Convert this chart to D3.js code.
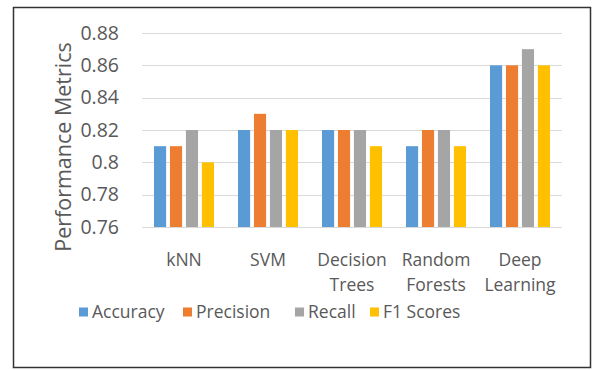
<!DOCTYPE html>
<html>
<head>
<meta charset="utf-8">
<script src="https://cdn.jsdelivr.net/npm/d3@7"></script>
<style>
  html, body { margin: 0; padding: 0; background: #fff; }
  svg { display: block; font-family: "Open Sans", sans-serif; }
</style>
</head>
<body>
<svg id="chart" width="594" height="370"></svg>
<script>
// Classifier comparison data
const categories = [["kNN"], ["SVM"], ["Decision", "Trees"], ["Random", "Forests"], ["Deep", "Learning"]];
const seriesNames = ["Accuracy", "Precision", "Recall", "F1 Scores"];
const seriesColors = ["#5B9BD5", "#ED7D31", "#A5A5A5", "#FFC000"];
const accuracy  = [0.81, 0.82, 0.82, 0.81, 0.86];
const precision = [0.81, 0.83, 0.82, 0.82, 0.86];
const recall    = [0.82, 0.82, 0.82, 0.82, 0.87];
const f1Scores  = [0.80, 0.82, 0.81, 0.81, 0.86];
const yTicks = [0.76, 0.78, 0.80, 0.82, 0.84, 0.86, 0.88];
const yTickLabels = ["0.76", "0.78", "0.8", "0.82", "0.84", "0.86", "0.88"];

const values = [accuracy, precision, recall, f1Scores];
const svg = d3.select("#chart");
const textColor = "#595959";

// Outer frame
svg.append("rect")
  .attr("x", 13.5).attr("y", 7.5)
  .attr("width", 577).attr("height", 360)
  .attr("fill", "#fff").attr("stroke", "#333").attr("stroke-width", 1.5);

const plot = { left: 142, right: 562, top: 33, bottom: 227 };

const y = d3.scaleLinear().domain([0.76, 0.88]).range([plot.bottom, plot.top]);
const x0 = d3.scaleBand().domain(d3.range(categories.length)).range([plot.left, plot.right]).paddingInner(0).paddingOuter(0);
const x1 = d3.scaleBand().domain(d3.range(seriesNames.length)).range([0, 60]).paddingInner(0.24);

// Gridlines
svg.append("g").selectAll("line").data(yTicks).join("line")
  .attr("x1", plot.left).attr("x2", plot.right)
  .attr("y1", d => Math.round(y(d)) + 0.5).attr("y2", d => Math.round(y(d)) + 0.5)
  .attr("stroke", "#d9d9d9").attr("stroke-width", 1);

// Y tick labels
svg.append("g").selectAll("text").data(yTicks).join("text")
  .attr("x", 119).attr("y", d => y(d))
  .attr("dy", "0.35em")
  .attr("text-anchor", "end")
  .attr("fill", textColor).attr("font-size", 19.5)
  .text((d, i) => yTickLabels[i]);

// Bars
const groups = svg.append("g").selectAll("g").data(categories).join("g")
  .attr("transform", (d, i) => `translate(${x0(i) + x0.bandwidth() / 2 - 30},0)`);
groups.selectAll("rect")
  .data((d, i) => values.map((s, k) => ({ k, v: s[i] })))
  .join("rect")
  .attr("x", d => x1(d.k))
  .attr("width", x1.bandwidth())
  .attr("y", d => y(d.v))
  .attr("height", d => y(0.76) - y(d.v))
  .attr("fill", d => seriesColors[d.k]);

// Category labels
const catLabels = svg.append("g").selectAll("text").data(categories).join("text")
  .attr("x", (d, i) => x0(i) + x0.bandwidth() / 2)
  .attr("y", 266)
  .attr("text-anchor", "middle")
  .attr("fill", textColor).attr("font-size", 17.5);
catLabels.selectAll("tspan").data(d => d).join("tspan")
  .attr("x", function () { return d3.select(this.parentNode).attr("x"); })
  .attr("dy", (d, j) => j === 0 ? 0 : 25)
  .text(d => d);

// Y axis title
svg.append("text")
  .attr("transform", "translate(71,147) rotate(-90)")
  .attr("text-anchor", "middle")
  .attr("fill", textColor).attr("font-size", 21.5)
  .text("Performance Metrics");

// Legend
const legendX = [79, 183, 295, 370];
const legend = svg.append("g").selectAll("g").data(seriesNames).join("g")
  .attr("transform", (d, i) => `translate(${legendX[i]},312)`);
legend.append("rect")
  .attr("x", 0).attr("y", -4.5).attr("width", 9).attr("height", 9)
  .attr("fill", (d, i) => seriesColors[i]);
legend.append("text")
  .attr("x", 13).attr("y", 0).attr("dy", "0.35em")
  .attr("fill", textColor).attr("font-size", 17.5)
  .text(d => d);
</script>
</body>
</html>
